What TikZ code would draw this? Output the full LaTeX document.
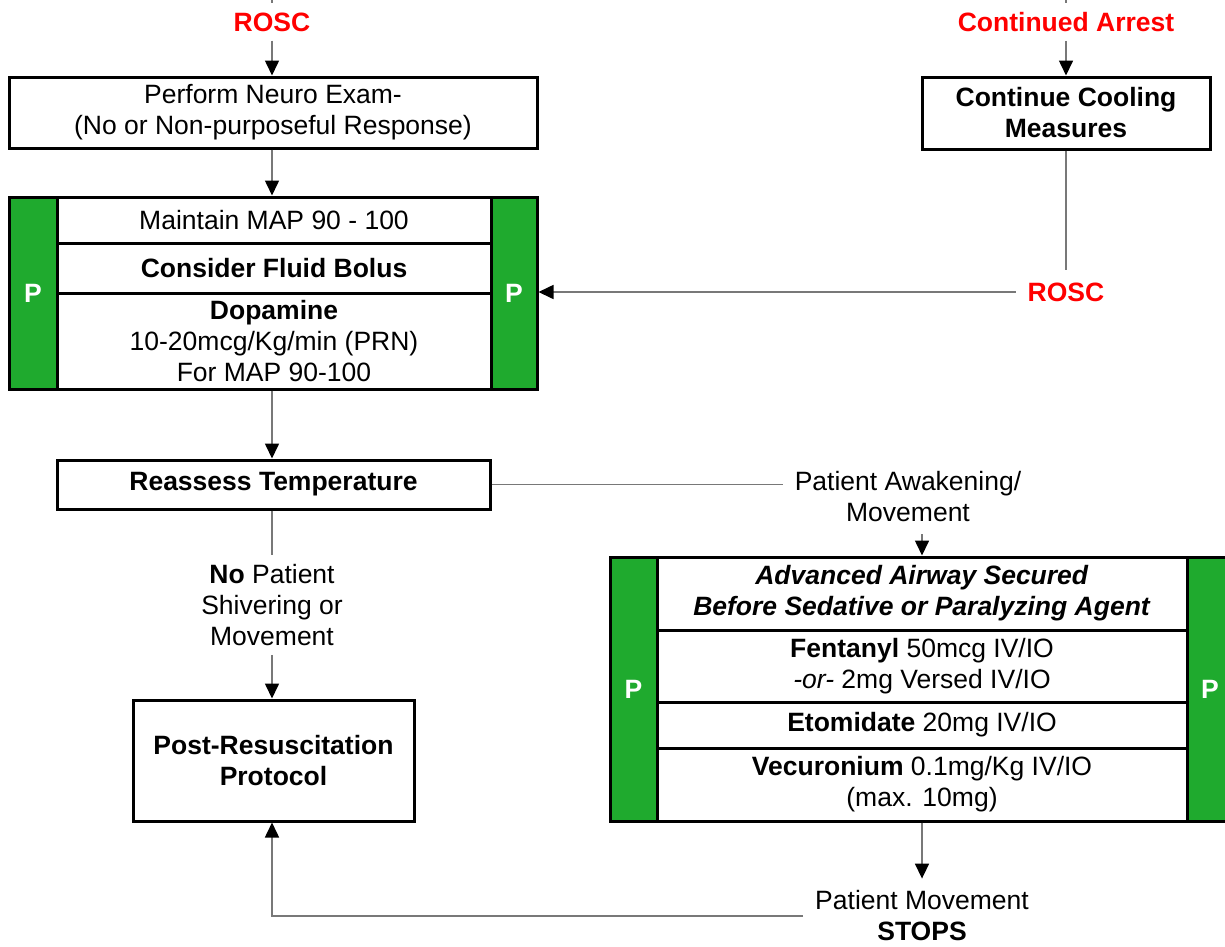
\documentclass[tikz,border=0pt]{standalone}
\usepackage{fontspec}
\setmainfont{Liberation Sans}
\usetikzlibrary{arrows.meta}
\definecolor{pgreen}{RGB}{31,170,46}
\definecolor{lnk}{RGB}{120,120,120}
\definecolor{rred}{RGB}{255,0,0}
\begin{document}
\begin{tikzpicture}[x=1pt,y=-1pt,
  every node/.style={font=\fontsize{26.5}{31}\selectfont, align=center},
  box/.style={draw=black, line width=3pt, fill=white, inner sep=0pt},
  gbar/.style={draw=black, line width=3pt, fill=pgreen, text=white, font=\fontsize{26.5}{31}\selectfont\bfseries, inner sep=0pt},
  lbl/.style={inner sep=9pt},
  redlbl/.style={inner sep=9pt, text=rred, font=\fontsize{26.5}{31}\selectfont\bfseries},
  conn/.style={draw=lnk, line width=1.6pt},
  arr/.style={conn, -{Triangle[length=15pt,width=14pt,color=black]}}
]
\useasboundingbox (0,0) rectangle (1225,946);

% top left
\coordinate (t1) at (272,-10);
\node[redlbl] (rosc1) at (272,22) {ROSC};
\node[box, minimum width=528pt, minimum height=71pt] (neuro) at (273,112.5)
  {Perform Neuro Exam-\\(No or Non-purposeful Response)};

% left P group
\node[gbar, minimum width=48pt, minimum height=192pt] (lgL) at (33,293) {P};
\node[gbar, minimum width=46pt, minimum height=192pt] (lgR) at (514,293) {P};
\node[box, minimum width=434pt, minimum height=46pt] (map) at (274,220) {Maintain MAP 90 - 100};
\node[box, minimum width=434pt, minimum height=50pt] (fluid) at (274,268) {\textbf{Consider Fluid Bolus}};
\node[box, minimum width=434pt, minimum height=96pt] (dopa) at (274,341)
  {\textbf{Dopamine}\\10-20mcg/Kg/min (PRN)\\For MAP 90-100};

% reassess
\node[box, minimum width=433pt, minimum height=49pt] (reassess) at (273.5,484.5) {\textbf{Reassess Temperature}};
\node[lbl] (shiver) at (272,605) {\textbf{No} Patient\\Shivering or\\Movement};
\node[box, minimum width=281pt, minimum height=121pt] (post) at (273.5,760.5)
  {\textbf{Post-Resuscitation}\\\textbf{Protocol}};

% top right
\coordinate (t2) at (1066,-10);
\node[redlbl] (arrest) at (1066,22) {Continued Arrest};
\node[box, minimum width=288pt, minimum height=72pt] (cool) at (1066,113)
  {\textbf{Continue Cooling}\\\textbf{Measures}};
\node[redlbl, inner sep=12pt] (rosc2) at (1066,292) {ROSC};

% awakening
\node[lbl, inner sep=12pt] (awaken) at (908,497) {Patient Awakening/\\Movement};

% right P group
\node[gbar, minimum width=47pt, minimum height=264pt] (rgL) at (633.5,689) {P};
\node[gbar, minimum width=46pt, minimum height=264pt] (rgR) at (1210,689) {P};
\node[box, minimum width=530pt, minimum height=73pt] (air) at (922,593.5)
  {\textbf{\textit{Advanced Airway Secured}}\\\textbf{\textit{Before Sedative or Paralyzing Agent}}};
\node[box, minimum width=530pt, minimum height=72pt] (fent) at (922,666)
  {\textbf{Fentanyl} 50mcg IV/IO\\\textit{-or-} 2mg Versed IV/IO};
\node[box, minimum width=530pt, minimum height=46pt] (eto) at (922,725)
  {\textbf{Etomidate} 20mg IV/IO};
\node[box, minimum width=530pt, minimum height=73pt] (vec) at (922,784.5)
  {\textbf{Vecuronium} 0.1mg/Kg IV/IO\\(max. 10mg)};

\node[lbl, inner sep=12pt] (stops) at (922,916) {Patient Movement\\\textbf{STOPS}};

% connectors
\draw[conn] (t1) -- (rosc1.north);
\draw[arr] (rosc1.south) -- (rosc1.south |- neuro.north);
\draw[arr] (neuro.south -| rosc1.south) -- (map.north -| rosc1.south);
\draw[arr] (dopa.south -| rosc1.south) -- (reassess.north -| rosc1.south);
\draw[conn] (reassess.south -| shiver.north) -- (shiver.north);
\draw[arr] (shiver.south) -- (shiver.south |- post.north);
\draw[conn] (t2) -- (arrest.north);
\draw[arr] (arrest.south) -- (arrest.south |- cool.north);
\draw[conn] (cool.south) -- (rosc2.north);
\draw[arr] (rosc2.west) -- (rosc2.west -| lgR.east);
\draw[conn] (reassess.east) -- (reassess.east -| awaken.west);
\draw[arr] (awaken.south -| air.north) -- (air.north);
\draw[arr] (vec.south) -- (vec.south |- stops.north);
\draw[arr] (stops.west) -| (post.south -| shiver.south);
\end{tikzpicture}
\end{document}
